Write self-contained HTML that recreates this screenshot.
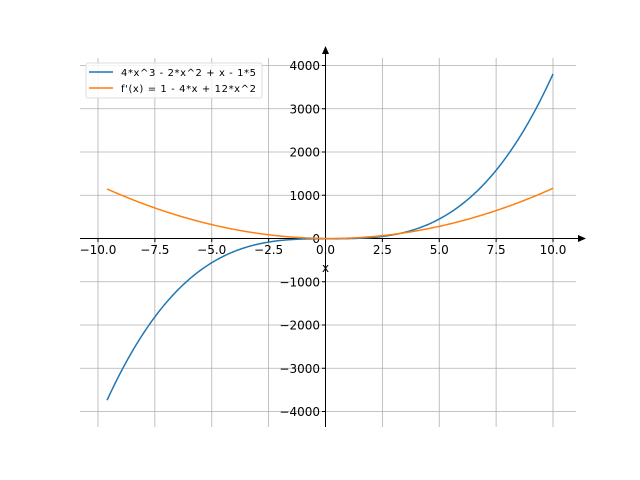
<!DOCTYPE html><html><head><style>body{margin:0;background:#fff}svg{display:block}text{font-family:"DejaVu Sans","Liberation Sans",sans-serif;fill:#000}</style></head><body>
<svg id="s" width="640" height="480" xmlns="http://www.w3.org/2000/svg">
<g id="grid" stroke="#b0b0b0" stroke-width="0.8"></g>
<g id="lab"></g>
<line x1="80" y1="238.5" x2="580" y2="238.5" stroke="#000" stroke-width="1"/>
<polygon points="586,238.5 578,235 578,242" fill="#000"/>
<line x1="325.5" y1="54" x2="325.5" y2="427" stroke="#000" stroke-width="1"/>
<polygon points="325.5,46 322,54 329,54" fill="#000"/>
<path id="p1" fill="none" stroke="#1f77b4" stroke-width="1.5"/>
<path id="p2" fill="none" stroke="#ff7f0e" stroke-width="1.5"/>
<text x="322" y="272" font-size="12">x</text>
<rect x="86" y="63" width="176" height="35" rx="2" fill="#fff" fill-opacity="0.8" stroke="#ddd"/>
<line x1="89" y1="72" x2="113" y2="72" stroke="#1f77b4" stroke-width="1.5"/>
<line x1="89" y1="88" x2="113" y2="88" stroke="#ff7f0e" stroke-width="1.5"/>
<text x="121" y="76" font-size="10" textLength="135">4*x^3 - 2*x^2 + x - 1*5</text>
<text x="121" y="92" font-size="10" textLength="135">f'(x) = 1 - 4*x + 12*x^2</text>
</svg>
<script>
var X=v=>325.5+v*22.75,Y=v=>238.5-v*0.04325,g=document.getElementById('grid'),l=document.getElementById('lab'),ns='http://www.w3.org/2000/svg';
function el(p,t,a,txt){var e=document.createElementNS(ns,t);for(var k in a)e.setAttribute(k,a[k]);if(txt)e.textContent=txt;p.appendChild(e);}
for(var v=-10;v<=10;v+=2.5){var x=X(v);el(g,'line',{x1:x,x2:x,y1:58,y2:427});el(l,'line',{x1:x,x2:x,y1:238.5,y2:242,stroke:'#000'});el(l,'text',{x:x,y:254,'text-anchor':'middle','font-size':'12'},v.toFixed(1).replace('-','−'));}
for(var v=-4000;v<=4000;v+=1000){var y=Y(v);el(g,'line',{x1:80,x2:576,y1:y,y2:y});el(l,'line',{x1:322,x2:325.5,y1:y,y2:y,stroke:'#000'});el(l,'text',{x:320,y:y+4.5,'text-anchor':'end','font-size':'12'},String(v).replace('-','−'));}
var a='',b='';for(var i=0;i<=400;i++){var x=-9.6+19.6*i/400;var f=4*x*x*x-2*x*x+x-5,d=1-4*x+12*x*x;a+=(i?'L':'M')+X(x).toFixed(2)+' '+Y(f).toFixed(2);b+=(i?'L':'M')+X(x).toFixed(2)+' '+Y(d).toFixed(2);}
document.getElementById('p1').setAttribute('d',a);document.getElementById('p2').setAttribute('d',b);
</script></body></html>
